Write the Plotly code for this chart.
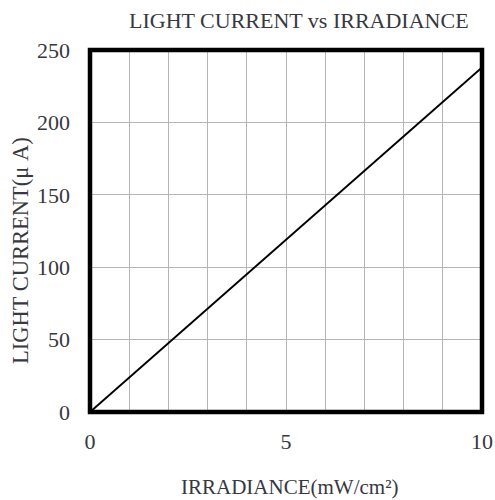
import plotly.graph_objects as go

irradiance = [0, 10]
light_current = [0, 238]
x_ticks = [0, 5, 10]
y_ticks = [0, 50, 100, 150, 200, 250]

font_fam = "Liberation Serif, Times New Roman, serif"
txt = "#383840"

fig = go.Figure()
fig.add_trace(go.Scatter(x=irradiance, y=light_current, mode="lines",
                         line=dict(color="black", width=2), showlegend=False))

fig.update_layout(
    width=495, height=500,
    margin=dict(l=90, r=13, t=50, b=88),
    plot_bgcolor="white", paper_bgcolor="white",
    font=dict(family=font_fam, color=txt, size=20),
    xaxis=dict(range=[0, 10], tickvals=x_ticks, showgrid=True, gridcolor="#b5b5b5", gridwidth=1,
               minor=dict(dtick=1, showgrid=True, gridcolor="#b5b5b5", gridwidth=1),
               zeroline=False, showline=False, ticks="", ticklabelstandoff=14,
               tickfont=dict(size=22), automargin=False),
    yaxis=dict(range=[0, 250], tickvals=y_ticks, showgrid=True, gridcolor="#b5b5b5", gridwidth=1,
               zeroline=False, showline=False, ticks="", ticklabelstandoff=19,
               tickfont=dict(size=22), automargin=False),
)

fig.add_shape(type="rect", xref="paper", yref="paper", x0=0, y0=0, x1=1, y1=1,
              line=dict(color="black", width=4.5))

fig.add_annotation(text="LIGHT CURRENT vs IRRADIANCE", xref="paper", yref="paper",
                   x=(299 - 90) / 392, y=1, yshift=30, showarrow=False,
                   font=dict(size=22, family=font_fam, color=txt), xanchor="center", yanchor="middle")
fig.add_annotation(text="IRRADIANCE(mW/cm²)", xref="paper", yref="paper",
                   x=(289 - 90) / 392, y=0, yshift=-75, showarrow=False,
                   font=dict(size=21, family=font_fam, color=txt), xanchor="center", yanchor="middle")
fig.add_annotation(text="LIGHT CURRENT(μ A)", xref="paper", yref="paper",
                   x=0, xshift=-70, y=(412 - 251) / 362, showarrow=False, textangle=-90,
                   font=dict(size=22.5, family=font_fam, color=txt), xanchor="center", yanchor="middle")

fig.write_html("out.html", config={"displayModeBar": False},
               post_script="document.body.style.margin='0';document.body.style.overflow='hidden';")
